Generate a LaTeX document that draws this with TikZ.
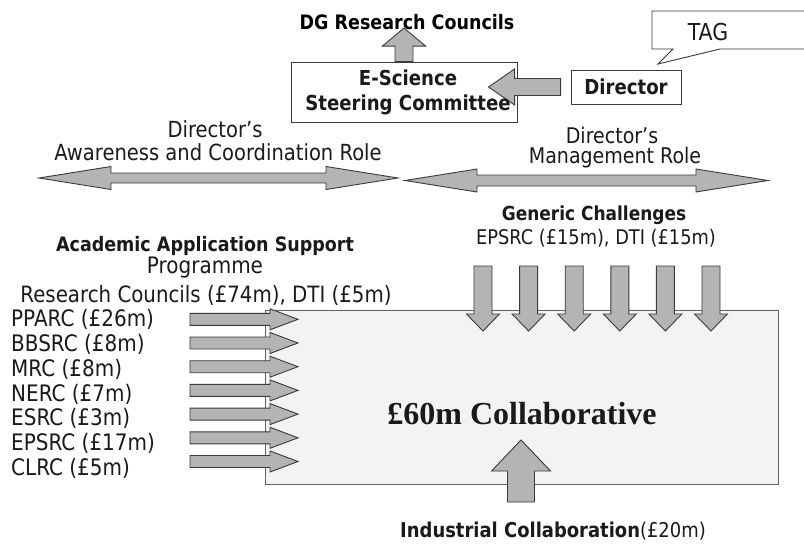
\documentclass[tikz,border=0pt]{standalone}
\usepackage{fontspec}
\setmainfont{DejaVu Sans}[FakeStretch=0.88]
\newfontfamily\timesfont{Liberation Serif}
\begin{document}
\definecolor{arrowgray}{HTML}{B4B4B4}
\definecolor{arrowline}{HTML}{3A3A3A}
\definecolor{panelgray}{HTML}{F3F3F3}
\definecolor{panelline}{HTML}{606060}
\definecolor{inkdark}{HTML}{1A1A1A}
\tikzset{
  blockarrowstyle/.style={fill=arrowgray, draw=arrowline, line width=0.9pt, line join=miter},
  % single block arrow: #1 length, #2 head length, #3 shaft half width, #4 head half width
  pics/blockarrow/.style n args={4}{code={%
    \path[blockarrowstyle] (0,-#3) -- ({#1-#2},-#3) -- ({#1-#2},-#4) -- (#1,0)
      -- ({#1-#2},#4) -- ({#1-#2},#3) -- (0,#3) -- cycle;
  }},
  % double-headed block arrow, same parameters
  pics/dblarrow/.style n args={4}{code={%
    \path[blockarrowstyle] (0,0) -- (#2,-#4) -- (#2,-#3) -- ({#1-#2},-#3) -- ({#1-#2},-#4)
      -- (#1,0) -- ({#1-#2},#4) -- ({#1-#2},#3) -- (#2,#3) -- (#2,#4) -- cycle;
  }},
  txt/.style={inner sep=0pt, text=inkdark, font=\fontsize{22.7}{26}\selectfont},
  boldtxt/.style={inner sep=0pt, text=inkdark, font=\bfseries\fontsize{19.9}{25}\selectfont},
  framebox/.style={draw=arrowline, line width=0.9pt, fill=white, inner sep=0pt},
}
\begin{tikzpicture}[x=1pt, y=-1pt]
  \useasboundingbox (0,0) rectangle (804,546);
  \fill[white] (0,0) rectangle (804,546);
  \clip (0,0) rectangle (804,546);

  % --- steering committee and director ---
  \node[framebox, minimum width=226, minimum height=60] (esc) at (404,92) {};
  \node[boldtxt, text=black] (dg) at (407,22) {DG Research Councils};
  \pic[rotate=90] at (esc.north) {blockarrow={33.5}{18}{9}{21.5}};

  \node[framebox, minimum width=110, minimum height=34] (dir) at (626,87) {};
  \node[boldtxt, font=\bfseries\fontsize{20.6}{25}\selectfont] (dirtxt) at (dir.center) {Director};
  \pic[rotate=180] at ([xshift=-10pt]dir.west) {blockarrow={72}{26}{8.5}{18}};
  \node[boldtxt, font=\bfseries\fontsize{20.6}{25}\selectfont, align=center] (esctxt) at (408,92)
    {E-Science\\Steering Committee};

  % TAG speech bubble
  \draw[draw=arrowline, line width=0.9pt, fill=white, line join=miter]
    (812,11) -- (652,11) -- (652,49) -- (673,49) -- (658,64) -- (720,49) -- (812,49);
  \node[txt, font=\fontsize{23.3}{26}\selectfont] (tag) at (708,32) {TAG};

  % --- director's roles ---
  \node[txt, font=\fontsize{22.2}{26}\selectfont] (rolea1) at (215,129) {Director's};
  \node[txt, font=\fontsize{22.2}{26}\selectfont] (rolea2) at (218,152) {Awareness and Coordination Role};
  \node[txt, font=\fontsize{21.6}{26}\selectfont] (roleb1) at (612,135) {Director's};
  \node[txt, font=\fontsize{21.6}{26}\selectfont] (roleb2) at (615,158) {Management Role};
  \pic at (39,178) {dblarrow={359}{72}{5}{11.5}};
  \pic at (405,180.5) {dblarrow={363}{72}{5.5}{11.5}};

  % --- collaborative programme ---
  \node[draw=panelline, line width=0.9pt, fill=panelgray, minimum width=513, minimum height=174, inner sep=0pt]
    (coll) at (521.5,397) {};
  \node[inner sep=0pt, font=\timesfont\bfseries\fontsize{32}{36}\selectfont, text=inkdark, anchor=base]
    (colltxt) at (522,424) {£60m Collaborative};

  % generic challenges
  \node[boldtxt, font=\bfseries\fontsize{19.3}{25}\selectfont] (gen) at (594,215) {Generic Challenges};
  \node[txt, font=\fontsize{20.2}{25}\selectfont] (genfund) at (596,238) {EPSRC (£15m), DTI (£15m)};
  \foreach \i in {0,...,5}
    \pic[rotate=-90] at ({483+45.6*\i},266) {blockarrow={65}{17}{9}{16.5}};

  % academic application support
  \node[boldtxt] (acad) at (205,246) {Academic Application Support};
  \node[txt] (prog) at (205,268) {Programme};
  \node[txt, font=\fontsize{22.5}{26}\selectfont] (rc) at (206,295) {Research Councils (£74m), DTI (£5m)};
  \foreach [count=\k from 0] \lab in {PPARC (£26m), BBSRC (£8m), MRC (£8m), NERC (£7m), ESRC (£3m), EPSRC (£17m), CLRC (£5m)} {
    \node[txt, anchor=west] (council\k) at (11,{319.5+24.8*\k}) {\lab};
    \pic at (190,{319.3+23.7*\k}) {blockarrow={108}{28}{6}{10.5}};
  }

  % industrial collaboration
  \pic[rotate=90] at (521,502) {blockarrow={62}{31}{13.5}{29.5}};
  \node[boldtxt, font=\bfseries\fontsize{20.4}{25}\selectfont] (ind) at (553,531)
    {Industrial Collaboration{\mdseries(£20m)}};
\end{tikzpicture}
\end{document}
